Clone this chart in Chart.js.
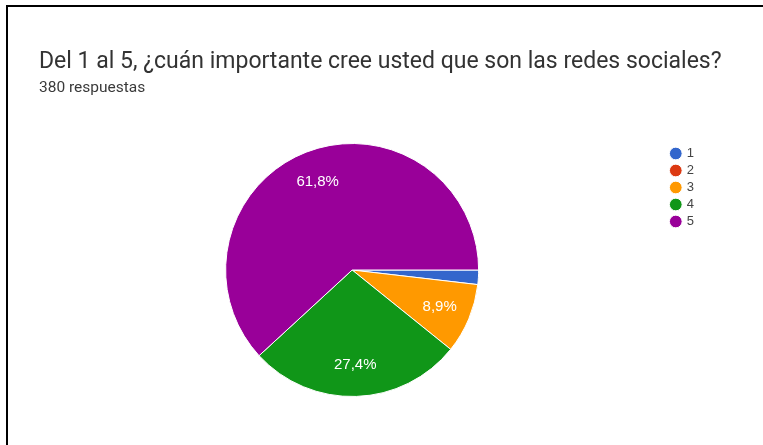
<!DOCTYPE html>
<html>
<head>
<meta charset="utf-8">
<script src="https://cdn.jsdelivr.net/npm/chart.js@4.4.1/dist/chart.umd.min.js"></script>
<style>
  html, body { margin: 0; padding: 0; background: #fff; }
  #wrap { position: relative; width: 763px; height: 445px; overflow: hidden; }
  #wrap canvas { position: absolute; left: 0; top: 0; }
  #marco { position: absolute; left: 6px; top: 5px; right: 0; bottom: 0;
           border-top: 2px solid #000; border-left: 2px solid #000; pointer-events: none; }
  .titulo { position: absolute; left: 39px; top: 47px; white-space: nowrap;
            font: 23px/27px Roboto, 'Noto Sans', sans-serif; color: #333; }
  .subtitulo { position: absolute; left: 39px; top: 78px; white-space: nowrap;
               font: 15.5px/19px Roboto, 'Noto Sans', sans-serif; color: #3a3a3a; }
</style>
</head>
<body>
<div id="wrap">
  <canvas id="Pie_redes" width="763" height="445"></canvas>
  <div class="titulo" id="titulo"></div>
  <div class="subtitulo" id="subtitulo"></div>
  <div id="marco"></div>
</div>
<script>
/* encuesta: importancia de las redes sociales */
const pregunta = 'Del 1 al 5, ¿cuán importante cree usted que son las redes sociales?';
const total_respuestas = '380 respuestas';
const opciones = ['1', '2', '3', '4', '5'];
const respuestas = [7, 0, 34, 104, 235];
const colores = ['#3366cc', '#dc3912', '#ff9900', '#109618', '#990099'];

document.getElementById('titulo').textContent = pregunta;
document.getElementById('subtitulo').textContent = total_respuestas;

// porcentaje dentro de cada porción (solo las grandes)
const etiquetasPorcentaje = {
    id: 'etiquetasPorcentaje',
    afterDatasetsDraw(chart) {
        const ctx = chart.ctx;
        const meta = chart.getDatasetMeta(0);
        const datos = chart.data.datasets[0].data;
        const suma = datos.reduce((a, b) => a + b, 0);
        ctx.save();
        ctx.font = "15px 'Liberation Sans', Arial, sans-serif";
        ctx.fillStyle = '#ffffff';
        ctx.textAlign = 'center';
        ctx.textBaseline = 'middle';
        meta.data.forEach((arc, i) => {
            const pct = datos[i] / suma * 100;
            if (pct < 5) return;
            const { x, y, startAngle, endAngle, outerRadius } = arc.getProps(['x', 'y', 'startAngle', 'endAngle', 'outerRadius'], true);
            const medio = (startAngle + endAngle) / 2;
            const r = outerRadius * 0.75;
            ctx.fillText(pct.toFixed(1).replace('.', ',') + '%', x + Math.cos(medio) * r, y + Math.sin(medio) * r);
        });
        ctx.restore();
    }
};

const data_redes = {
    labels: opciones,
    datasets: [{
        label: total_respuestas,
        data: respuestas,
        backgroundColor: colores,
        borderColor: '#ffffff',
        borderWidth: 1
    }]
};

const config_redes = {
    type: 'pie',
    data: data_redes,
    plugins: [etiquetasPorcentaje],
    options: {
        responsive: false,
        animation: false,
        rotation: 90,
        layout: {
            padding: { left: 37, right: 59, top: 143, bottom: 48 }
        },
        plugins: {
            legend: {
                position: 'right',
                align: 'start',
                fullSize: false,
                labels: {
                    usePointStyle: true,
                    pointStyle: 'circle',
                    boxWidth: 9,
                    boxHeight: 9,
                    padding: 4,
                    color: '#444444',
                    font: {
                        size: 13,
                        family: "'Liberation Sans', Arial, sans-serif"
                    }
                }
            },
            tooltip: { enabled: false }
        }
    }
};

const pie_redes = new Chart(
    document.getElementById('Pie_redes'),
    config_redes
);
</script>
</body>
</html>
